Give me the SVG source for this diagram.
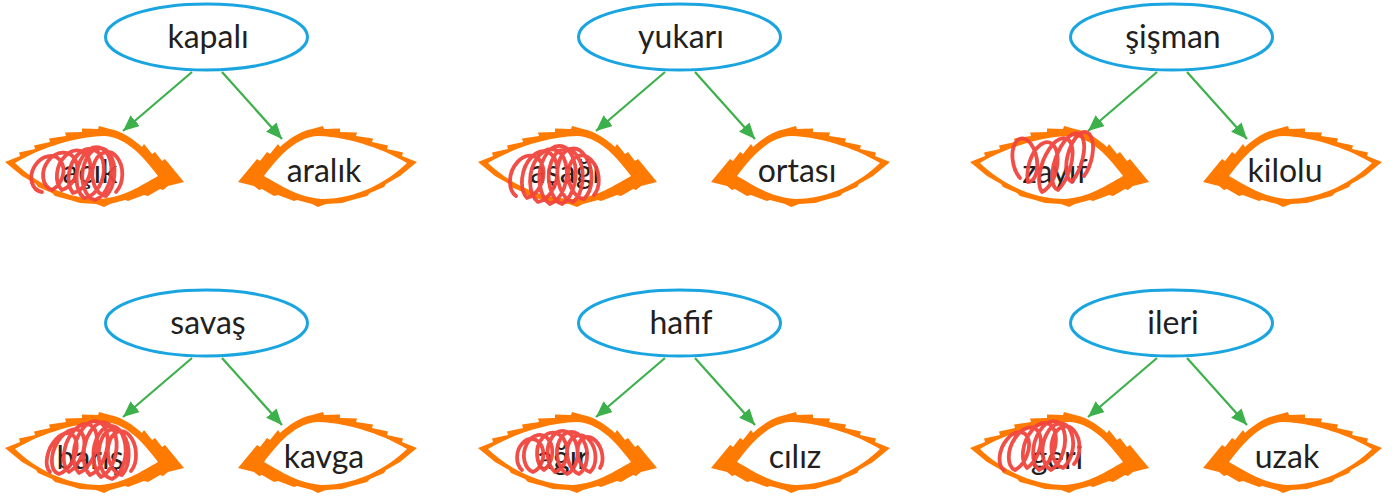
<svg xmlns="http://www.w3.org/2000/svg" xmlns:xlink="http://www.w3.org/1999/xlink" width="1400" height="498" viewBox="0 0 1400 498">
<style>
.bg{fill:#ffffff}
.oval{fill:#ffffff;stroke:#1aa5e0;stroke-width:3}
.lbl{font-family:Lato,"Noto Sans","Liberation Sans",sans-serif;font-size:32px;fill:#231f20;text-anchor:middle}
.edge{stroke:#3cb04a;stroke-width:2.2;fill:none}
.scrib{fill:none;stroke:#f0443e;stroke-width:3.8;stroke-linecap:round;stroke-linejoin:round;opacity:0.95}
.leafo{fill:#ff7a00}
.leafi{fill:#ffffff}
</style>
<defs>
<marker id="ah" markerUnits="userSpaceOnUse" markerWidth="17" markerHeight="15" refX="16" refY="7" orient="auto">
<path d="M0,0 L16,7 L0,14 z" fill="#3cb04a"/>
</marker>
<g id="leaf">
<path class="leafo" d="M 5 162 L 20 156 L 19 152.5 L 35 149 L 34 145.5 L 50 142 L 49 138.5 L 66 136 L 65 132.5 L 82 132 L 82 128.5 L 98 129 L 99 126 L 110 129 C 124 132, 134 140, 142 147 L 144 144 L 152 154 L 155 152 L 162 161 L 165 159 L 184 182 L 168 186 L 163 190 L 160 189 L 148 196 L 144 195 L 128 201 L 125 200 L 110 204 L 104 207 L 96 204 L 80 203 L 70 200 L 55 196 L 52 193 L 38 187 L 36 184 L 22 176 Z"/>
<path class="leafi" d="M 15 163 C 35 151, 70 137, 104 136 C 124 137, 140 152, 158 176 C 140 186, 125 197, 100 199 C 65 199, 35 182, 15 163 Z"/>
</g>
</defs>
<rect class="bg" x="0" y="0" width="1400" height="498"/>

<g id="connectors">
<g transform="translate(0 0)"><path class="edge" d="M 192 72 L 123 131" marker-end="url(#ah)"/><path class="edge" d="M 222 72 L 282 139" marker-end="url(#ah)"/></g>
<g transform="translate(473 0)"><path class="edge" d="M 192 72 L 123 131" marker-end="url(#ah)"/><path class="edge" d="M 222 72 L 282 139" marker-end="url(#ah)"/></g>
<g transform="translate(965 0)"><path class="edge" d="M 192 72 L 123 131" marker-end="url(#ah)"/><path class="edge" d="M 222 72 L 282 139" marker-end="url(#ah)"/></g>
<g transform="translate(0 286)"><path class="edge" d="M 192 72 L 123 131" marker-end="url(#ah)"/><path class="edge" d="M 222 72 L 282 139" marker-end="url(#ah)"/></g>
<g transform="translate(473 286)"><path class="edge" d="M 192 72 L 123 131" marker-end="url(#ah)"/><path class="edge" d="M 222 72 L 282 139" marker-end="url(#ah)"/></g>
<g transform="translate(965 286)"><path class="edge" d="M 192 72 L 123 131" marker-end="url(#ah)"/><path class="edge" d="M 222 72 L 282 139" marker-end="url(#ah)"/></g>
</g>

<!-- Group 1 -->
<g id="kapali" transform="translate(0 0)"><ellipse class="oval" cx="206.5" cy="37" rx="101" ry="33"/><text class="lbl" x="208" y="48">kapalı</text></g>
<g id="acik" transform="translate(0 0)"><use href="#leaf"/><text class="lbl" x="90" y="183">açık</text></g>
<g id="aralik" transform="translate(0 0)"><use href="#leaf" transform="translate(422 0) scale(-1 1)"/><text class="lbl" x="324" y="182">aralık</text></g>

<!-- Group 2 -->
<g id="yukari" transform="translate(473 0)"><ellipse class="oval" cx="206.5" cy="37" rx="101" ry="33"/><text class="lbl" x="208" y="48">yukarı</text></g>
<g id="asagi" transform="translate(473 0)"><use href="#leaf"/><text class="lbl" x="92" y="183">aşağı</text></g>
<g id="ortasi" transform="translate(473 0)"><use href="#leaf" transform="translate(422 0) scale(-1 1)"/><text class="lbl" x="324" y="182">ortası</text></g>

<!-- Group 3 -->
<g id="sisman" transform="translate(965 0)"><ellipse class="oval" cx="206.5" cy="37" rx="101" ry="33"/><text class="lbl" x="208" y="48">şişman</text></g>
<g id="zayif" transform="translate(965 0)"><use href="#leaf"/><text class="lbl" x="90" y="183">zayıf</text></g>
<g id="kilolu" transform="translate(965 0)"><use href="#leaf" transform="translate(422 0) scale(-1 1)"/><text class="lbl" x="320" y="182">kilolu</text></g>

<!-- Group 4 -->
<g id="savas" transform="translate(0 286)"><ellipse class="oval" cx="206.5" cy="37" rx="101" ry="33"/><text class="lbl" x="208" y="48">savaş</text></g>
<g id="baris" transform="translate(0 286)"><use href="#leaf"/><text class="lbl" x="90" y="183">barış</text></g>
<g id="kavga" transform="translate(0 286)"><use href="#leaf" transform="translate(422 0) scale(-1 1)"/><text class="lbl" x="324" y="182">kavga</text></g>

<!-- Group 5 -->
<g id="hafif" transform="translate(473 286)"><ellipse class="oval" cx="206.5" cy="37" rx="101" ry="33"/><text class="lbl" x="208" y="48">hafif</text></g>
<g id="agir" transform="translate(473 286)"><use href="#leaf"/><text class="lbl" x="90" y="183">ağır</text></g>
<g id="ciliz" transform="translate(473 286)"><use href="#leaf" transform="translate(422 0) scale(-1 1)"/><text class="lbl" x="322" y="182">cılız</text></g>

<!-- Group 6 -->
<g id="ileri" transform="translate(965 286)"><ellipse class="oval" cx="206.5" cy="37" rx="101" ry="33"/><text class="lbl" x="208" y="48">ileri</text></g>
<g id="geri" transform="translate(965 286)"><use href="#leaf"/><text class="lbl" x="92" y="183">geri</text></g>
<g id="uzak" transform="translate(965 286)"><use href="#leaf" transform="translate(422 0) scale(-1 1)"/><text class="lbl" x="322" y="182">uzak</text></g>

<g id="scribbles">
<path class="scrib" d="M 42 192 a 15 19 30 1 1 10 -2 a 16 20 30 1 1 10 0 a 16 22 20 1 1 11 3 a 17 25 15 1 1 11 5 a 17 27 10 1 1 11 2 a 16 26 5 1 1 11 -4 a 15 22 0 1 1 10 -4"/>
<path class="scrib" d="M 516 196 a 16 22 20 1 1 11 2 a 17 26 15 1 1 11 4 a 18 28 10 1 1 12 2 a 18 30 5 1 1 12 0 a 17 28 0 1 1 11 -2 a 17 27 -5 1 1 11 -3 a 15 22 -10 1 1 10 -4"/>
<path class="scrib" d="M 1020 178 a 12 22 -10 1 1 8 4 a 14 26 15 1 1 14 10 a 14 30 20 1 1 16 -2 a 13 30 20 1 1 14 -8 a 12 26 15 1 1 12 -6"/>
<path class="scrib" d="M 50 472 a 13 22 25 1 1 9 2 a 14 24 25 1 1 10 -2 a 15 26 20 1 1 10 1 a 16 28 15 1 1 11 2 a 16 28 10 1 1 11 2 a 16 27 5 1 1 11 2 a 15 25 0 1 1 10 -4 a 14 22 -5 1 1 9 -4"/>
<path class="scrib" d="M 522 470 a 13 17 10 1 1 11 2 a 14 19 10 1 1 11 -2 a 15 20 5 1 1 11 2 a 15 22 0 1 1 12 2 a 15 22 -5 1 1 12 0 a 14 20 -10 1 1 11 -2 a 12 18 -15 1 1 10 -4"/>
<path class="scrib" d="M 1004 470 a 13 21 25 1 1 11 0 a 14 23 25 1 1 12 -2 a 15 25 20 1 1 12 2 a 15 26 15 1 1 12 0 a 15 24 10 1 1 12 -2 a 14 21 0 1 1 11 -4"/>
</g>
</svg>
